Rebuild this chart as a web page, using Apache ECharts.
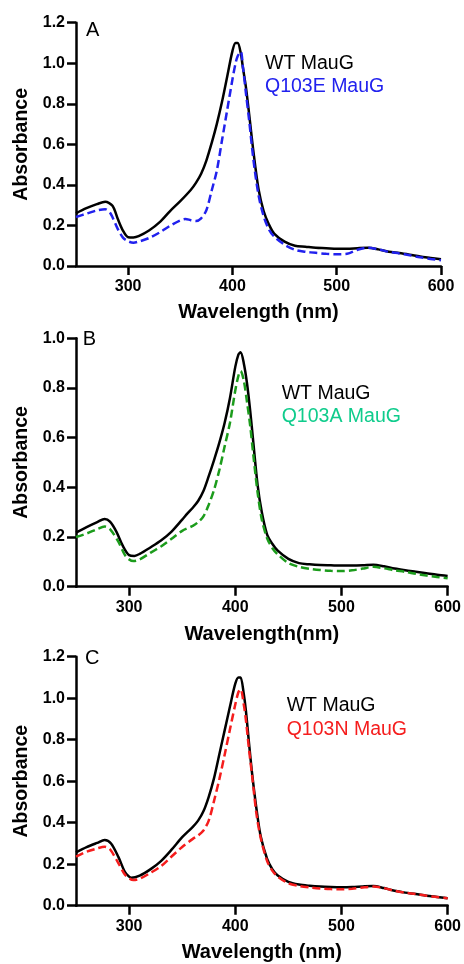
<html>
<head>
<meta charset="utf-8">
<title>MauG absorbance spectra</title>
<script src="https://cdn.jsdelivr.net/npm/echarts@6/dist/echarts.min.js"></script>
<style>
  html, body { margin: 0; padding: 0; background: #fff; }
  #chart { width: 464px; height: 964px; }
</style>
</head>
<body>
<div id="chart"></div>
<script>
// data (wavelength nm, absorbance)
var tail = [450, 460, 470, 480, 490, 500, 510, 520, 530, 540, 550, 560, 570, 580, 590, 600];

// panel A
var wlA_wt = [250, 260, 270, 278, 285, 290, 295, 300, 305, 310, 320, 330, 340, 350, 360, 365, 370, 375, 380, 385, 390, 395, 400, 403, 405, 408, 410, 413, 416, 420, 425, 430, 435, 440].concat(tail);
var absA_wt = [0.26, 0.285, 0.305, 0.317, 0.297, 0.233, 0.175, 0.142, 0.141, 0.147, 0.175, 0.215, 0.27, 0.32, 0.375, 0.41, 0.455, 0.52, 0.605, 0.70, 0.81, 0.935, 1.06, 1.10, 1.10, 1.05, 0.98, 0.88, 0.75, 0.57, 0.38, 0.27, 0.205, 0.16,
  0.12, 0.10, 0.095, 0.09, 0.088, 0.085, 0.085, 0.088, 0.09, 0.082, 0.07, 0.064, 0.056, 0.047, 0.04, 0.033];
var wlA_mut = [250, 260, 270, 278, 283, 290, 295, 300, 305, 310, 320, 330, 340, 350, 355, 360, 365, 370, 375, 380, 385, 390, 395, 400, 403, 405, 408, 410, 413, 416, 420, 425, 430, 435, 440].concat(tail);
var absA_mut = [0.242, 0.258, 0.274, 0.28, 0.26, 0.183, 0.14, 0.122, 0.115, 0.12, 0.138, 0.165, 0.198, 0.225, 0.232, 0.226, 0.222, 0.235, 0.275, 0.37, 0.47, 0.62, 0.77, 0.92, 1.0, 1.035, 1.057, 0.985, 0.85, 0.72, 0.53, 0.35, 0.245, 0.18, 0.145,
  0.105, 0.08, 0.07, 0.065, 0.06, 0.058, 0.06, 0.08, 0.09, 0.082, 0.07, 0.062, 0.053, 0.043, 0.035, 0.028];

// panel B
var wlB_wt = [250, 260, 270, 277, 282, 288, 294, 300, 305, 310, 320, 330, 340, 350, 355, 360, 365, 370, 375, 380, 385, 390, 395, 400, 403, 405, 408, 411, 414, 417, 421, 425, 430, 435, 440].concat(tail);
var absB_wt = [0.218, 0.24, 0.26, 0.273, 0.262, 0.222, 0.165, 0.127, 0.124, 0.132, 0.158, 0.186, 0.222, 0.27, 0.295, 0.318, 0.345, 0.385, 0.445, 0.51, 0.58, 0.66, 0.76, 0.885, 0.935, 0.944, 0.90, 0.82, 0.71, 0.58, 0.41, 0.30, 0.21, 0.172, 0.145,
  0.112, 0.095, 0.09, 0.087, 0.086, 0.085, 0.085, 0.086, 0.088, 0.082, 0.073, 0.066, 0.06, 0.054, 0.048, 0.043];
var wlB_mut = [250, 260, 270, 277, 282, 290, 296, 300, 304, 310, 320, 330, 340, 350, 360, 365, 370, 375, 380, 385, 390, 395, 400, 403, 405, 408, 411, 414, 417, 421, 425, 430, 435, 440].concat(tail);
var absB_mut = [0.20, 0.214, 0.232, 0.242, 0.232, 0.18, 0.128, 0.11, 0.103, 0.11, 0.136, 0.162, 0.193, 0.225, 0.245, 0.26, 0.283, 0.33, 0.39, 0.47, 0.565, 0.66, 0.79, 0.85, 0.868, 0.83, 0.745, 0.65, 0.53, 0.38, 0.27, 0.195, 0.155, 0.13,
  0.095, 0.08, 0.072, 0.067, 0.064, 0.063, 0.066, 0.073, 0.08, 0.074, 0.066, 0.06, 0.052, 0.045, 0.039, 0.034];

// panel C
var wlC_wt = [250, 260, 270, 277, 283, 290, 296, 300, 302, 310, 320, 330, 340, 350, 360, 365, 370, 375, 380, 385, 390, 395, 400, 403, 405, 408, 410, 413, 416, 420, 424, 430, 435, 440].concat(tail);
var absC_wt = [0.257, 0.282, 0.303, 0.317, 0.30, 0.234, 0.163, 0.14, 0.135, 0.145, 0.175, 0.215, 0.27, 0.33, 0.38, 0.41, 0.455, 0.525, 0.615, 0.73, 0.845, 0.96, 1.07, 1.10, 1.10, 1.02, 0.94, 0.78, 0.63, 0.465, 0.333, 0.225, 0.175, 0.146,
  0.115, 0.102, 0.096, 0.092, 0.09, 0.089, 0.09, 0.093, 0.095, 0.085, 0.072, 0.063, 0.056, 0.048, 0.042, 0.036];
var wlC_mut = [250, 260, 270, 277, 282, 290, 296, 300, 304, 310, 320, 330, 340, 350, 360, 365, 370, 375, 380, 385, 390, 395, 400, 403, 405, 408, 410, 413, 416, 420, 424, 430, 435, 440].concat(tail);
var absC_mut = [0.236, 0.26, 0.276, 0.284, 0.272, 0.204, 0.15, 0.132, 0.124, 0.13, 0.158, 0.19, 0.237, 0.283, 0.322, 0.338, 0.362, 0.41, 0.505, 0.61, 0.728, 0.85, 0.97, 1.03, 1.043, 0.97, 0.895, 0.75, 0.62, 0.44, 0.325, 0.215, 0.168, 0.14,
  0.108, 0.095, 0.088, 0.083, 0.08, 0.079, 0.082, 0.088, 0.092, 0.085, 0.072, 0.063, 0.056, 0.048, 0.042, 0.036];

var xTicks = [300, 400, 500, 600];
var panelLetters = ['A', 'B', 'C'];
var wtName = 'WT MauG';
var mutNames = ['Q103E MauG', 'Q103A MauG', 'Q103N MauG'];
var xNames = ['Wavelength (nm)', 'Wavelength(nm)', 'Wavelength (nm)'];
var yMax = [1.2, 1.0, 1.2];

function zip(xs, ys) {
  var out = [];
  for (var i = 0; i < xs.length; i++) out.push([xs[i], ys[i]]);
  return out;
}

var font = 'Arial, "Liberation Sans", sans-serif';
var mutLine = ['#2121ee', '#1c9c1c', '#f51d1d'];
var mutText = ['#2121ee', '#0fcc8c', '#f51d1d'];

var grids = [
  { left: 76, top: 22.7, width: 365, height: 243.3 },
  { left: 76, top: 338.3, width: 372, height: 248.4 },
  { left: 76, top: 656.7, width: 372, height: 249 }
];
var nameGaps = [36, 38, 37];
var legendPos = [
  { left: 255, top: 46.6 },
  { left: 271.7, top: 376.6 },
  { left: 276.7, top: 689 }
];
var letterPos = [[86, 31], [82.7, 340], [85, 659]];

var wtData = [zip(wlA_wt, absA_wt), zip(wlB_wt, absB_wt), zip(wlC_wt, absC_wt)];
var mutData = [zip(wlA_mut, absA_mut), zip(wlB_mut, absB_mut), zip(wlC_mut, absC_mut)];

var axisLine = { lineStyle: { color: '#000', width: 2.5 } };
var xAxes = [], yAxes = [], series = [], legends = [], graphics = [];

for (var p = 0; p < 3; p++) {
  xAxes.push({
    type: 'value', gridIndex: p, min: 250, max: 600,
    name: xNames[p], nameLocation: 'middle', nameGap: nameGaps[p],
    nameTextStyle: { fontFamily: font, fontWeight: 'bold', fontSize: 20, color: '#000' },
    axisLine: axisLine,
    axisTick: { length: 9, lineStyle: { color: '#000', width: 2.5 }, customValues: xTicks },
    axisLabel: { customValues: xTicks, margin: 13, fontFamily: font, fontWeight: 'bold', fontSize: 16, color: '#000' },
    splitLine: { show: false }
  });
  yAxes.push({
    type: 'value', gridIndex: p, min: 0, max: yMax[p], interval: 0.2,
    name: 'Absorbance', nameLocation: 'middle', nameGap: 44,
    nameTextStyle: { fontFamily: font, fontWeight: 'bold', fontSize: 19.5, color: '#000' },
    axisLine: { show: true, lineStyle: { color: '#000', width: 2.5 } },
    axisTick: { show: true, length: 9, lineStyle: { color: '#000', width: 2.5 } },
    axisLabel: { margin: 11, fontFamily: font, fontWeight: 'bold', fontSize: 16, color: '#000',
      formatter: function (v) { return v.toFixed(1); } },
    splitLine: { show: false }
  });
  series.push({
    name: wtName, type: 'line', xAxisIndex: p, yAxisIndex: p,
    data: wtData[p], showSymbol: false, smooth: 0.3, z: 2,
    lineStyle: { color: '#000', width: 2.5 }, itemStyle: { color: '#000' }
  });
  series.push({
    name: mutNames[p], type: 'line', xAxisIndex: p, yAxisIndex: p,
    data: mutData[p], showSymbol: false, smooth: 0.3, z: 3,
    lineStyle: { color: mutLine[p], width: 2.5, type: [8, 4] }, itemStyle: { color: mutLine[p] }
  });
  legends.push({
    orient: 'vertical', left: legendPos[p].left, top: legendPos[p].top,
    icon: 'none', itemWidth: 0, itemHeight: 14, itemGap: 0, selectedMode: false,
    textStyle: { fontFamily: font, fontSize: 19.5, lineHeight: 23.5, color: '#000' },
    data: [
      { name: wtName, textStyle: { color: '#000' } },
      { name: mutNames[p], textStyle: { color: mutText[p] } }
    ]
  });
  graphics.push({
    type: 'text', left: letterPos[p][0], top: letterPos[p][1] - 11,
    style: { text: panelLetters[p], fontFamily: font, fontSize: 20, fill: '#000' }
  });
}

var chart = echarts.init(document.getElementById('chart'));
chart.setOption({
  animation: false,
  backgroundColor: '#fff',
  grid: grids,
  xAxis: xAxes,
  yAxis: yAxes,
  legend: legends,
  graphic: graphics,
  series: series
});
</script>
</body>
</html>
